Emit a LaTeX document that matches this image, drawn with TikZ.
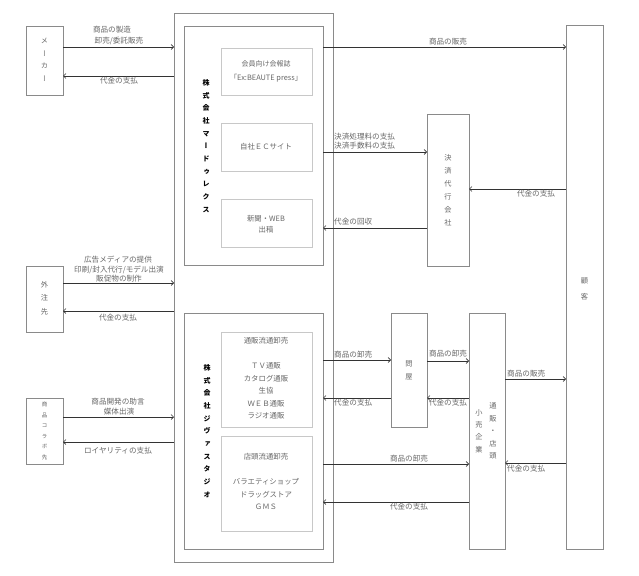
\documentclass[tikz,border=0pt]{standalone}
\usepackage{fontspec}
\setmainfont{Noto Sans CJK JP}
\newfontfamily\jpv[RawFeature=+vert]{Noto Sans CJK JP}
\usetikzlibrary{arrows.meta}
\definecolor{boxc}{HTML}{8A8A8A}
\definecolor{subc}{HTML}{C8C8C8}
\definecolor{txtc}{HTML}{666666}
\definecolor{arrc}{HTML}{333333}
\tikzset{
 bx/.style={draw=boxc, line width=0.7pt, inner sep=0pt, outer sep=0pt},
 sub/.style={draw=subc, line width=0.7pt, inner sep=0pt, outer sep=0pt},
 lbl/.style={text=txtc, font=\fontsize{7.6}{12.5}\selectfont, inner sep=0pt, align=center},
 lbll/.style={lbl, anchor=west},
 btxt/.style={text=txtc, font=\fontsize{7.4}{12.5}\selectfont, inner sep=0pt, align=center},
 vlbl/.style={text=txtc, font=\jpv\fontsize{7.2}{13}\selectfont, inner sep=0pt, align=center},
 ttl/.style={text=black, font=\jpv\bfseries\fontsize{7}{12.7}\selectfont, inner sep=0pt, align=center},
 arr/.style={draw=arrc, line width=0.6pt, -{Straight Barb[length=2.5pt,width=5pt]}},
}
\newcommand{\bxnode}[6]{\node[#1, minimum width={#4-#2}, minimum height={#5-#3}] (#6) at ({(#2+#4)/2},{(#3+#5)/2}) {};}
\begin{document}
\begin{tikzpicture}[x=1pt,y=-1pt]
\useasboundingbox (0,0) rectangle (639,575);
% boxes
\bxnode{bx}{174}{13}{333}{562}{outer}
\bxnode{bx}{184}{26}{323}{265}{mard}
\bxnode{sub}{221}{48}{312}{95}{m1}
\bxnode{sub}{221}{123}{312}{171}{m2}
\bxnode{sub}{221}{199}{312}{247}{m3}
\bxnode{bx}{184}{313}{323}{549}{jiva}
\bxnode{sub}{221}{332}{312}{427}{j1}
\bxnode{sub}{221}{436}{312}{531}{j2}
\bxnode{bx}{26}{26}{63}{95}{maker}
\bxnode{bx}{26}{266}{63}{332}{gaichu}
\bxnode{bx}{26}{398}{63}{464}{collab}
\bxnode{bx}{427}{114}{469}{266}{kessai}
\bxnode{bx}{566}{25}{603}{549}{kokyaku}
\bxnode{bx}{391}{313}{427}{427}{tonya}
\bxnode{bx}{469}{313}{505}{549}{kouri}
% titles
\node[ttl] (mardT) at (206,146) {株\\式\\会\\社\\マ\\ー\\ド\\ゥ\\レ\\ク\\ス};
\node[ttl] (jivaT) at (207,431) {株\\式\\会\\社\\ジ\\ヴ\\ァ\\ス\\タ\\ジ\\オ};
% sub box texts
\node[btxt, font=\fontsize{7}{12.5}\selectfont] (m1a) at (266,64) {会員向け会報誌};
\node[btxt] (m1b) at (266,78) {「Ex:BEAUTE press」};
\node[btxt] (m2a) at (266,147) {自社ＥＣサイト};
\node[btxt] (m3a) at (266,219) {新聞・WEB};
\node[btxt] (m3b) at (266,230) {出稿};
\node[btxt] (j1a) at (266,341) {通販流通卸売};
\node[btxt] (j1b) at (266,391) {ＴＶ通販\\カタログ通販\\生協\\ＷＥＢ通販\\ラジオ通販};
\node[btxt] (j2a) at (266,457) {店頭流通卸売};
\node[btxt] (j2b) at (266,494) {バラエティショップ\\ドラッグストア\\ＧＭＳ};
% vertical box texts
\node[vlbl, font=\jpv\fontsize{7.2}{12.5}\selectfont] (makerT) at (44.5,60) {メ\\ー\\カ\\ー};
\node[vlbl, font=\jpv\fontsize{7.2}{13.5}\selectfont] (gaichuT) at (44.5,298) {外\\注\\先};
\node[vlbl, font=\jpv\fontsize{5.5}{10.6}\selectfont] (collabT) at (44.5,431) {商\\品\\コ\\ラ\\ボ\\先};
\node[vlbl] (kessaiT) at (448,190) {決\\済\\代\\行\\会\\社};
\node[vlbl, font=\jpv\fontsize{7.2}{16}\selectfont] (kokyakuT) at (584.5,289) {顧\\客};
\node[vlbl] (tonyaT) at (409,370) {問\\屋};
\node[vlbl, font=\jpv\fontsize{7.2}{12.5}\selectfont] (kouriT1) at (493,431) {通\\販\\・\\店\\頭};
\node[vlbl, font=\jpv\fontsize{7.2}{12.3}\selectfont] (kouriT2) at (479,431) {小\\売\\企\\業};
% left arrows
\draw[arr] (maker.east |- 0,47) -- (outer.west |- 0,47);
\draw[arr] (outer.west |- 0,76) -- (maker.east |- 0,76);
\node[lbl] (t1) at (112,30) {商品の製造};
\node[lbl] (t2) at (119,41) {卸売/委託販売};
\node[lbl] (t3) at (119,81) {代金の支払};
\draw[arr] (gaichu.east |- 0,283) -- (outer.west |- 0,283);
\draw[arr] (outer.west |- 0,311) -- (gaichu.east |- 0,311);
\node[lbl] (t4) at (118,260) {広告メディアの提供};
\node[lbl] (t5) at (119,270) {印刷/封入代行/モデル出演};
\node[lbl] (t6) at (119,279) {販促物の制作};
\node[lbl] (t7) at (118,318) {代金の支払};
\draw[arr] (collab.east |- 0,417) -- (outer.west |- 0,417);
\draw[arr] (outer.west |- 0,442) -- (collab.east |- 0,442);
\node[lbl] (t8) at (118,402) {商品開発の助言};
\node[lbl] (t9) at (119,412) {媒体出演};
\node[lbl] (t10) at (118,451) {ロイヤリティの支払};
% upper right arrows
\draw[arr] (mard.east |- 0,47) -- (kokyaku.west |- 0,47);
\node[lbl] (t11) at (448,42) {商品の販売};
\draw[arr] (mard.east |- 0,152) -- (kessai.west |- 0,152);
\node[lbll] (t12) at (334,137) {決済処理料の支払};
\node[lbll] (t13) at (334,146) {決済手数料の支払};
\draw[arr] (kessai.west |- 0,228) -- (mard.east |- 0,228);
\node[lbll] (t14) at (334,222) {代金の回収};
\draw[arr] (kokyaku.west |- 0,189) -- (kessai.east |- 0,189);
\node[lbl] (t15) at (536,194) {代金の支払};
% lower right arrows
\draw[arr] (jiva.east |- 0,360) -- (tonya.west |- 0,360);
\node[lbll] (t16) at (334,355) {商品の卸売};
\draw[arr] (tonya.west |- 0,398) -- (jiva.east |- 0,398);
\node[lbll] (t17) at (334,403) {代金の支払};
\draw[arr] (tonya.east |- 0,361) -- (kouri.west |- 0,361);
\node[lbl] (t18) at (448,354) {商品の卸売};
\draw[arr] (kouri.west |- 0,398) -- (tonya.east |- 0,398);
\node[lbl] (t19) at (448,403) {代金の支払};
\draw[arr] (kouri.east |- 0,379) -- (kokyaku.west |- 0,379);
\node[lbll] (t20) at (507,374) {商品の販売};
\draw[arr] (kokyaku.west |- 0,463) -- (kouri.east |- 0,463);
\node[lbll] (t21) at (507,469) {代金の支払};
\draw[arr] (jiva.east |- 0,464) -- (kouri.west |- 0,464);
\node[lbl] (t22) at (409,459) {商品の卸売};
\draw[arr] (kouri.west |- 0,502) -- (jiva.east |- 0,502);
\node[lbl] (t23) at (409,507) {代金の支払};
\end{tikzpicture}
\end{document}
